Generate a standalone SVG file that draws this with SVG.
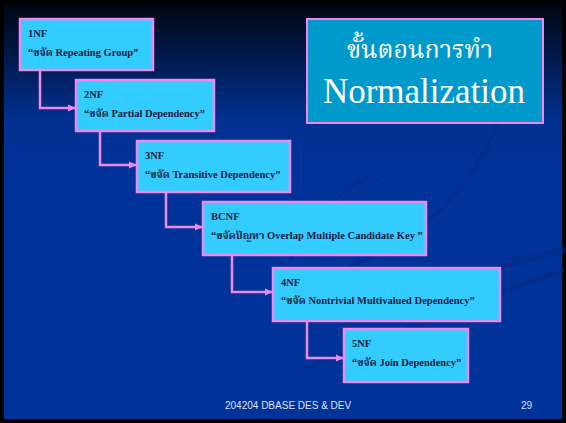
<svg xmlns="http://www.w3.org/2000/svg" width="566" height="423" viewBox="0 0 566 423">
<defs>
<linearGradient id="bg" x1="0" y1="0" x2="0" y2="1">
<stop offset="0" stop-color="#000510"/>
<stop offset="0.08" stop-color="#001235"/>
<stop offset="0.28" stop-color="#003090"/>
<stop offset="0.4" stop-color="#003399"/>
<stop offset="1" stop-color="#003399"/>
</linearGradient>
<marker id="ah" markerWidth="8" markerHeight="8" refX="7" refY="4" orient="auto" markerUnits="userSpaceOnUse">
<path d="M0,0.5 L8,4 L0,7.5 Z" fill="#ee88ee"/>
</marker>
<style>
.box{fill:#33ccff;stroke:#ee88ee;stroke-width:2.5}
.t{font-family:"Liberation Serif","Noto Serif Thai","DejaVu Serif",serif;font-weight:bold;font-size:10.5px;fill:#1a1a40}
.c{fill:none;stroke:#ee88ee;stroke-width:2.5;marker-end:url(#ah)}
.ft{font-family:"Liberation Sans",Arial,sans-serif;font-size:10px;fill:#dde0f0}
.sw{fill:none;stroke:#002a88;stroke-linecap:round}
</style>
</defs>
<rect width="566" height="423" fill="#000"/>
<rect x="4" y="3" width="558" height="416" fill="url(#bg)"/>
<g id="swooshes" opacity="0.6">
<path class="sw" stroke-width="4" d="M330,275 C420,240 480,190 505,100"/>
<path class="sw" stroke-width="7" d="M400,320 C430,285 520,260 562,250"/>
<path class="sw" stroke-width="5" d="M300,370 C380,340 480,300 562,270"/>
<path class="sw" stroke-width="3" d="M290,260 C330,200 360,170 378,180"/>
</g>
<g id="title">
<rect x="307" y="19" width="236" height="104" fill="#0099cc" stroke="#ee88ee" stroke-width="2"/>
<text x="420" y="58" text-anchor="middle" font-family="'Liberation Serif','Noto Serif Thai','Noto Sans Thai',serif" font-size="25" fill="#ffffff">ขั้นตอนการทำ</text>
<text x="424" y="103" text-anchor="middle" font-family="'Liberation Serif',serif" font-size="35" fill="#ffffff">Normalization</text>
</g>
<g id="connectors">
<path class="c" d="M40,71 V108 H75"/>
<path class="c" d="M100,132 V165 H136"/>
<path class="c" d="M166,193 V227 H202"/>
<path class="c" d="M232,256 V292 H272"/>
<path class="c" d="M307,322 V358 H343"/>
</g>
<g id="n1nf">
<rect class="box" x="20" y="19" width="133" height="51"/>
<text class="t" x="28" y="37">1NF</text>
<text class="t" x="28" y="56">“ขจัด Repeating Group”</text>
</g>
<g id="n2nf">
<rect class="box" x="76" y="80" width="138" height="51"/>
<text class="t" x="84" y="98">2NF</text>
<text class="t" x="84" y="117">“ขจัด Partial Dependency”</text>
</g>
<g id="n3nf">
<rect class="box" x="137" y="141" width="153" height="51"/>
<text class="t" x="145" y="159">3NF</text>
<text class="t" x="145" y="178">“ขจัด Transitive Dependency”</text>
</g>
<g id="nbcnf">
<rect class="box" x="203" y="202" width="223" height="53"/>
<text class="t" x="211" y="220">BCNF</text>
<text class="t" x="211" y="239">“ขจัดปัญหา Overlap Multiple Candidate Key ”</text>
</g>
<g id="n4nf">
<rect class="box" x="273" y="268" width="227" height="53"/>
<text class="t" x="281" y="286">4NF</text>
<text class="t" x="281" y="304">“ขจัด Nontrivial Multivalued Dependency”</text>
</g>
<g id="n5nf">
<rect class="box" x="344" y="329" width="124" height="53"/>
<text class="t" x="352" y="347">5NF</text>
<text class="t" x="352" y="366">“ขจัด Join Dependency”</text>
</g>
<g id="footer">
<text class="ft" x="225" y="409">204204 DBASE DES &amp; DEV</text>
<text class="ft" x="521" y="409">29</text>
</g>
</svg>
